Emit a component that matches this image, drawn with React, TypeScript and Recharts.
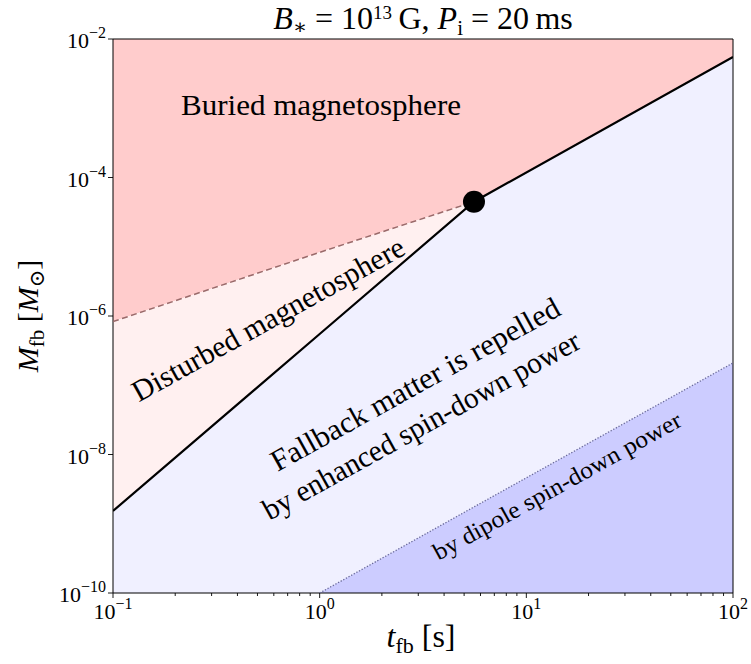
import React from 'react';
import { ComposedChart, Area, Line, XAxis, YAxis, ReferenceArea, ReferenceDot } from 'recharts';

// ---- data ----
const tValues = [0.1, 1, 5.58, 100];
const buriedBoundary = [8.3e-7, 8.3e-6, 4.47e-5, 5.5e-3];
const repelledBoundary = [1.53e-9, 5.5e-7, 4.47e-5, 5.5e-3];
const dashedBoundary: (number | null)[] = [8.3e-7, 8.3e-6, 4.47e-5, null];
const dipoleBoundary: (number | null)[] = [null, 1e-10, 1.75e-9, 2.1e-7];
const criticalPoint = { t: 5.58, m: 4.47e-5 };

const xDomain = [0.1, 100];
const yDomain = [1e-10, 1e-2];
const xMajorTicks = [0.1, 1, 10, 100];
const xMinorTicks = [0.2, 0.3, 0.4, 0.5, 0.6, 0.7, 0.8, 0.9, 2, 3, 4, 5, 6, 7, 8, 9, 20, 30, 40, 50, 60, 70, 80, 90];
const yMajorTicks = [1e-10, 1e-8, 1e-6, 1e-4, 1e-2];

const rows = tValues.map((t, i) => ({
  t,
  buried: buriedBoundary[i],
  repelled: repelledBoundary[i],
  dashed: dashedBoundary[i],
  dipole: dipoleBoundary[i],
}));

const FONT = '"Liberation Serif", "DejaVu Serif", serif';

const expLabel = (v: number) => {
  const e = Math.round(Math.log10(v));
  return e < 0 ? `\u2212${-e}` : `${e}`;
};

const isMajor = (v: number) => {
  const l = Math.log10(v);
  return Math.abs(l - Math.round(l)) < 1e-6;
};

const XTick = (props: any) => {
  const { x, y, payload } = props;
  const major = isMajor(payload.value);
  return (
    <g>
      <line x1={x} x2={x} y1={y} y2={y + (major ? 5 : 3)} stroke="#000" strokeWidth={0.9} />
      {major && (
        <text x={x} y={y + 26} textAnchor="middle" fontFamily={FONT} fontSize={22} fill="#000">
          10
          <tspan dy={-10} fontSize={16}>{expLabel(payload.value)}</tspan>
        </text>
      )}
    </g>
  );
};

const YTick = (props: any) => {
  const { x, y, payload } = props;
  return (
    <g>
      <line x1={x - 5} x2={x} y1={y} y2={y} stroke="#000" strokeWidth={0.9} />
      <text x={x - 7} y={y + 9} textAnchor="end" fontFamily={FONT} fontSize={22} fill="#000">
        10
        <tspan dy={-10} fontSize={16}>{expLabel(payload.value)}</tspan>
      </text>
    </g>
  );
};

export default function App() {
  return (
    <div style={{ position: 'fixed', left: 0, top: 0, width: 751, height: 664, overflow: 'hidden', background: '#fff' }}>
      <ComposedChart
        width={751}
        height={664}
        data={rows}
        margin={{ top: 39, right: 18, bottom: 0, left: 0 }}
      >
        <XAxis
          dataKey="t"
          type="number"
          scale="log"
          domain={xDomain}
          allowDataOverflow
          ticks={[...xMajorTicks, ...xMinorTicks]}
          interval={0}
          tick={<XTick />}
          tickLine={false}
          axisLine={false}
          tickSize={0}
          tickMargin={0}
          height={71}
        />
        <YAxis
          type="number"
          scale="log"
          domain={yDomain}
          allowDataOverflow
          ticks={yMajorTicks}
          interval={0}
          tick={<YTick />}
          tickLine={false}
          axisLine={false}
          tickSize={0}
          tickMargin={0}
          width={113}
        />
        <Area
          type="linear"
          dataKey={(d: any) => [d.buried, yDomain[1]]}
          fill="#ffcccc"
          fillOpacity={1}
          stroke="none"
          dot={false}
          activeDot={false}
          isAnimationActive={false}
        />
        <Area
          type="linear"
          dataKey={(d: any) => [d.repelled, d.buried]}
          fill="#fff0f0"
          fillOpacity={1}
          stroke="none"
          dot={false}
          activeDot={false}
          isAnimationActive={false}
        />
        <Area
          type="linear"
          dataKey={(d: any) => [yDomain[0], d.repelled]}
          fill="#f0f0ff"
          fillOpacity={1}
          stroke="none"
          dot={false}
          activeDot={false}
          isAnimationActive={false}
        />
        <Area
          type="linear"
          dataKey={(d: any) => (d.dipole == null ? null : [yDomain[0], d.dipole])}
          fill="#ccccff"
          fillOpacity={1}
          stroke="none"
          dot={false}
          activeDot={false}
          isAnimationActive={false}
        />
        <Line
          type="linear"
          dataKey="dashed"
          stroke="#9a6a6a"
          strokeWidth={1.5}
          strokeDasharray="6 3.5"
          dot={false}
          activeDot={false}
          isAnimationActive={false}
        />
        <Line
          type="linear"
          dataKey="dipole"
          stroke="#6a6a9a"
          strokeWidth={1.3}
          strokeDasharray="1.3 1.7"
          dot={false}
          activeDot={false}
          isAnimationActive={false}
        />
        <Line
          type="linear"
          dataKey="repelled"
          stroke="#000"
          strokeWidth={2.2}
          dot={false}
          activeDot={false}
          isAnimationActive={false}
        />
        <ReferenceArea
          x1={xDomain[0]}
          x2={xDomain[1]}
          y1={yDomain[0]}
          y2={yDomain[1]}
          fill="none"
          fillOpacity={0}
          stroke="#000"
          strokeWidth={1}
          strokeOpacity={1}
        />
        <ReferenceDot x={criticalPoint.t} y={criticalPoint.m} r={11} fill="#000" stroke="none" />
      </ComposedChart>
      <svg
        width={751}
        height={664}
        style={{ position: 'absolute', left: 0, top: 0, pointerEvents: 'none' }}
        fontFamily={FONT}
      >
        <text x={423} y={29} textAnchor="middle" fontSize={32} fill="#000">
          <tspan fontStyle="italic">B</tspan>
          <tspan fontSize={21} dy={5}>{'\u2217'}</tspan>
          <tspan dy={-5}>{'\u2005=\u2005'}</tspan>
          <tspan>10</tspan>
          <tspan fontSize={19} dy={-10}>13</tspan>
          <tspan dy={10}>{'\u2009G, '}</tspan>
          <tspan fontStyle="italic">P</tspan>
          <tspan fontSize={21} dy={6}>i</tspan>
          <tspan dy={-6}>{'\u2005=\u2005'}</tspan>
          <tspan>{'20\u2009ms'}</tspan>
        </text>
        <text transform="translate(38,316) rotate(-90)" textAnchor="middle" fontSize={30} fill="#000">
          <tspan fontStyle="italic">M</tspan>
          <tspan fontSize={21} dy={6}>fb</tspan>
          <tspan dy={-6}>{' ['}</tspan>
          <tspan fontStyle="italic">M</tspan>
          <tspan fontSize={21} dy={6}>{'\u2299'}</tspan>
          <tspan dy={-6}>]</tspan>
        </text>
        <text x={421} y={647} textAnchor="middle" fontSize={32} fill="#000">
          <tspan fontStyle="italic">t</tspan>
          <tspan fontSize={22} dy={6}>fb</tspan>
          <tspan dy={-6}>{' [s]'}</tspan>
        </text>
        <text x={321} y={115} textAnchor="middle" fontSize={30} fill="#000" textLength={280} lengthAdjust="spacingAndGlyphs">
          Buried magnetosphere
        </text>
        <text x={273} y={328} textAnchor="middle" fontSize={30} fill="#000" textLength={307} lengthAdjust="spacingAndGlyphs" transform="rotate(-29 273 328)">
          Disturbed magnetosphere
        </text>
        <text x={420} y={393} textAnchor="middle" fontSize={30} fill="#000" textLength={326} lengthAdjust="spacingAndGlyphs" transform="rotate(-29 420 393)">
          Fallback matter is repelled
        </text>
        <text x={426} y={434} textAnchor="middle" fontSize={30} fill="#000" textLength={358} lengthAdjust="spacingAndGlyphs" transform="rotate(-29 426 434)">
          by enhanced spin-down power
        </text>
        <text x={561} y={493} textAnchor="middle" fontSize={24} fill="#000" textLength={280} lengthAdjust="spacingAndGlyphs" transform="rotate(-29 561 493)">
          by dipole spin-down power
        </text>
      </svg>
    </div>
  );
}
